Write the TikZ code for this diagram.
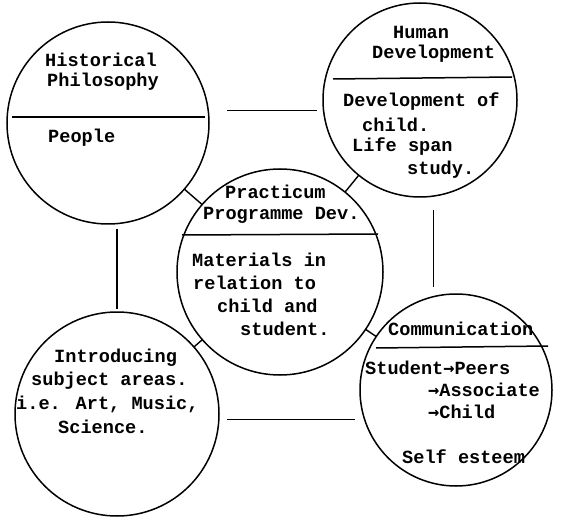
\documentclass[tikz,border=0pt]{standalone}
\usepackage{fontspec}
\setmainfont{Liberation Mono}
\newfontfamily\arrowfont{DejaVu Sans Mono}
\newcommand{\rarr}{{\arrowfont\bfseries →}}
\usetikzlibrary{shapes.geometric,calc}
\begin{document}
\begin{tikzpicture}[x=1pt,y=-1pt,
  bubble/.style={draw,circle,line width=1.5pt,inner sep=0pt,outer sep=0pt},
  txt/.style={anchor=west,inner sep=0pt,font=\fontsize{18.6}{20}\bfseries\selectfont},
  link/.style={line width=1.4pt},
  divider/.style={line width=1.5pt}]
\useasboundingbox[fill=white] (0,0) rectangle (564,518);
% circles
\node[bubble,minimum size=202pt] (hist) at (108,123) {};
\node[bubble,minimum size=194pt] (human) at (420,100) {};
\node[bubble,minimum size=206pt] (prac) at (280,272) {};
\node[bubble,minimum size=204pt] (intro) at (117,414) {};
\node[bubble,minimum size=192pt] (comm) at (456,390) {};
% dividers
\draw[divider] ($(hist.center)+(-96,-6)$) -- ($(hist.center)+(97,-6)$);
\draw[divider] ($(human.center)+(-87,-21)$) -- ($(human.center)+(92,-23)$);
\draw[divider] ($(prac.center)+(-98,-37)$) -- ($(prac.center)+(98,-38)$);
\draw[divider] ($(comm.center)+(-80,-42)$) -- ($(comm.center)+(92,-44)$);
% connectors
\draw[link] (hist) -- (prac);
\draw[link] (prac) -- (human);
\draw[link] (prac) -- (intro);
\draw[link] (prac) -- (comm);
\draw[link,shorten <=19pt,shorten >=6pt] (hist.7) -- (hist.7 -| human.west);
\draw[link,shorten <=5pt,shorten >=3pt] (intro.north |- hist.south) -- (intro.north);
\draw[link,shorten <=14pt,shorten >=7pt] (human.-82) -- (human.-82 |- comm.north);
\draw[link,shorten <=8pt,shorten >=5pt] (intro.-3) -- (intro.-3 -| comm.west);
% texts
\node[txt] (h1) at (45,60) {Historical};
\node[txt] (h2) at (47,82) {Philosophy};
\node[txt] (h3) at (48,138) {People};
\node[txt] (u1) at (393,32) {Human};
\node[txt] (u2) at (372,54) {Development};
\node[txt] (u3) at (343,102) {Development of};
\node[txt] (u4) at (362,125) {child.};
\node[txt] (u5) at (352,147) {Life span};
\node[txt] (u6) at (407,170) {study.};
\node[txt] (p1) at (225,192) {Practicum};
\node[txt] (p2) at (203,215) {Programme Dev.};
\node[txt] (p3) at (192,260) {Materials in};
\node[txt] (p4) at (193,283) {relation to};
\node[txt] (p5) at (217,306) {child and};
\node[txt] (p6) at (240,329) {student.};
\node[txt] (i1) at (54,358) {Introducing};
\node[txt] (i2) at (31,381) {subject areas.};
\node[txt] (i3) at (16,404) {i.e. Art, Music,};
\node[txt] (i4) at (58,427) {Science.};
\node[txt] (c1) at (388,329) {Communication};
\node[txt] (c2) at (365,368) {Student\rarr Peers};
\node[txt] (c3) at (428,390) {\rarr Associate};
\node[txt] (c4) at (428,412) {\rarr Child};
\node[txt] (c5) at (402,457) {Self esteem};
\end{tikzpicture}
\end{document}
